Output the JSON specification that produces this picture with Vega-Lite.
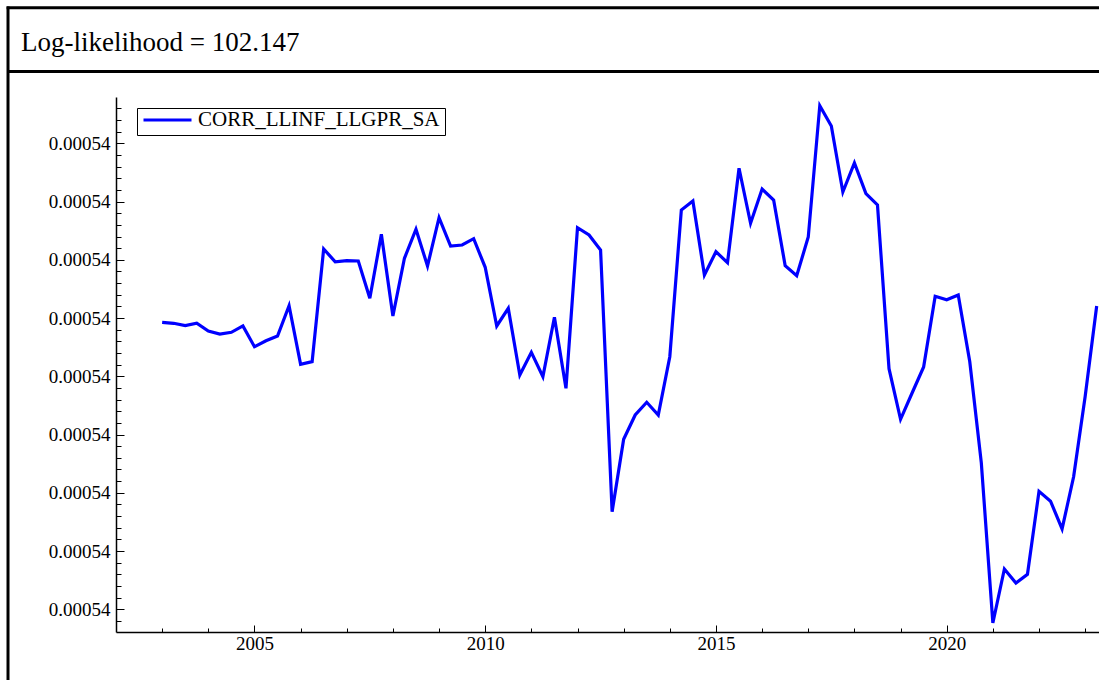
{
  "$schema": "https://vega.github.io/schema/vega-lite/v6.json",
  "width": 983,
  "height": 535,
  "autosize": {"type": "none"},
  "padding": {"left": 116, "top": 97, "right": 0, "bottom": 48},
  "background": "white",
  "title": {
    "text": "Log-likelihood = 102.147",
    "anchor": "start",
    "frame": "bounds",
    "orient": "top",
    "offset": -73,
    "dx": 16,
    "font": "Liberation Serif",
    "fontSize": 27,
    "fontWeight": "normal",
    "color": "black",
    "baseline": "alphabetic"
  },
  "config": {
    "view": {"stroke": null},
    "axis": {"grid": false}
  },
  "resolve": {"axis": {"x": "independent", "y": "independent"}},
  "layer": [
    {
      "data": {
        "values": [
          {"date": 2003.00, "value": 0.00054004927, "series": "CORR_LLINF_LLGPR_SA"},
          {"date": 2003.25, "value": 0.00054004910, "series": "CORR_LLINF_LLGPR_SA"},
          {"date": 2003.50, "value": 0.00054004869, "series": "CORR_LLINF_LLGPR_SA"},
          {"date": 2003.75, "value": 0.00054004910, "series": "CORR_LLINF_LLGPR_SA"},
          {"date": 2004.00, "value": 0.00054004778, "series": "CORR_LLINF_LLGPR_SA"},
          {"date": 2004.25, "value": 0.00054004726, "series": "CORR_LLINF_LLGPR_SA"},
          {"date": 2004.50, "value": 0.00054004755, "series": "CORR_LLINF_LLGPR_SA"},
          {"date": 2004.75, "value": 0.00054004864, "series": "CORR_LLINF_LLGPR_SA"},
          {"date": 2005.00, "value": 0.00054004508, "series": "CORR_LLINF_LLGPR_SA"},
          {"date": 2005.25, "value": 0.00054004611, "series": "CORR_LLINF_LLGPR_SA"},
          {"date": 2005.50, "value": 0.00054004692, "series": "CORR_LLINF_LLGPR_SA"},
          {"date": 2005.75, "value": 0.00054005212, "series": "CORR_LLINF_LLGPR_SA"},
          {"date": 2006.00, "value": 0.00054004206, "series": "CORR_LLINF_LLGPR_SA"},
          {"date": 2006.25, "value": 0.00054004251, "series": "CORR_LLINF_LLGPR_SA"},
          {"date": 2006.50, "value": 0.00054006185, "series": "CORR_LLINF_LLGPR_SA"},
          {"date": 2006.75, "value": 0.00054005967, "series": "CORR_LLINF_LLGPR_SA"},
          {"date": 2007.00, "value": 0.00054005985, "series": "CORR_LLINF_LLGPR_SA"},
          {"date": 2007.25, "value": 0.00054005979, "series": "CORR_LLINF_LLGPR_SA"},
          {"date": 2007.50, "value": 0.00054005339, "series": "CORR_LLINF_LLGPR_SA"},
          {"date": 2007.75, "value": 0.00054006438, "series": "CORR_LLINF_LLGPR_SA"},
          {"date": 2008.00, "value": 0.00054005035, "series": "CORR_LLINF_LLGPR_SA"},
          {"date": 2008.25, "value": 0.00054006026, "series": "CORR_LLINF_LLGPR_SA"},
          {"date": 2008.50, "value": 0.00054006524, "series": "CORR_LLINF_LLGPR_SA"},
          {"date": 2008.75, "value": 0.00054005894, "series": "CORR_LLINF_LLGPR_SA"},
          {"date": 2009.00, "value": 0.00054006723, "series": "CORR_LLINF_LLGPR_SA"},
          {"date": 2009.25, "value": 0.00054006237, "series": "CORR_LLINF_LLGPR_SA"},
          {"date": 2009.50, "value": 0.00054006254, "series": "CORR_LLINF_LLGPR_SA"},
          {"date": 2009.75, "value": 0.00054006362, "series": "CORR_LLINF_LLGPR_SA"},
          {"date": 2010.00, "value": 0.00054005871, "series": "CORR_LLINF_LLGPR_SA"},
          {"date": 2010.25, "value": 0.00054004864, "series": "CORR_LLINF_LLGPR_SA"},
          {"date": 2010.50, "value": 0.00054005167, "series": "CORR_LLINF_LLGPR_SA"},
          {"date": 2010.75, "value": 0.00054004022, "series": "CORR_LLINF_LLGPR_SA"},
          {"date": 2011.00, "value": 0.00054004412, "series": "CORR_LLINF_LLGPR_SA"},
          {"date": 2011.25, "value": 0.00054003993, "series": "CORR_LLINF_LLGPR_SA"},
          {"date": 2011.50, "value": 0.00054005013, "series": "CORR_LLINF_LLGPR_SA"},
          {"date": 2011.75, "value": 0.00054003794, "series": "CORR_LLINF_LLGPR_SA"},
          {"date": 2012.00, "value": 0.00054006551, "series": "CORR_LLINF_LLGPR_SA"},
          {"date": 2012.25, "value": 0.00054006426, "series": "CORR_LLINF_LLGPR_SA"},
          {"date": 2012.50, "value": 0.00054006168, "series": "CORR_LLINF_LLGPR_SA"},
          {"date": 2012.75, "value": 0.00054001676, "series": "CORR_LLINF_LLGPR_SA"},
          {"date": 2013.00, "value": 0.00054002918, "series": "CORR_LLINF_LLGPR_SA"},
          {"date": 2013.25, "value": 0.00054003336, "series": "CORR_LLINF_LLGPR_SA"},
          {"date": 2013.50, "value": 0.00054003554, "series": "CORR_LLINF_LLGPR_SA"},
          {"date": 2013.75, "value": 0.00054003336, "series": "CORR_LLINF_LLGPR_SA"},
          {"date": 2014.00, "value": 0.00054004336, "series": "CORR_LLINF_LLGPR_SA"},
          {"date": 2014.25, "value": 0.00054006855, "series": "CORR_LLINF_LLGPR_SA"},
          {"date": 2014.50, "value": 0.00054007009, "series": "CORR_LLINF_LLGPR_SA"},
          {"date": 2014.75, "value": 0.00054005739, "series": "CORR_LLINF_LLGPR_SA"},
          {"date": 2015.00, "value": 0.00054006139, "series": "CORR_LLINF_LLGPR_SA"},
          {"date": 2015.25, "value": 0.00054005950, "series": "CORR_LLINF_LLGPR_SA"},
          {"date": 2015.50, "value": 0.00054007571, "series": "CORR_LLINF_LLGPR_SA"},
          {"date": 2015.75, "value": 0.00054006627, "series": "CORR_LLINF_LLGPR_SA"},
          {"date": 2016.00, "value": 0.00054007215, "series": "CORR_LLINF_LLGPR_SA"},
          {"date": 2016.25, "value": 0.00054007027, "series": "CORR_LLINF_LLGPR_SA"},
          {"date": 2016.50, "value": 0.00054005899, "series": "CORR_LLINF_LLGPR_SA"},
          {"date": 2016.75, "value": 0.00054005727, "series": "CORR_LLINF_LLGPR_SA"},
          {"date": 2017.00, "value": 0.00054006391, "series": "CORR_LLINF_LLGPR_SA"},
          {"date": 2017.25, "value": 0.00054008646, "series": "CORR_LLINF_LLGPR_SA"},
          {"date": 2017.50, "value": 0.00054008297, "series": "CORR_LLINF_LLGPR_SA"},
          {"date": 2017.75, "value": 0.00054007164, "series": "CORR_LLINF_LLGPR_SA"},
          {"date": 2018.00, "value": 0.00054007662, "series": "CORR_LLINF_LLGPR_SA"},
          {"date": 2018.25, "value": 0.00054007138, "series": "CORR_LLINF_LLGPR_SA"},
          {"date": 2018.50, "value": 0.00054006941, "series": "CORR_LLINF_LLGPR_SA"},
          {"date": 2018.75, "value": 0.00054004130, "series": "CORR_LLINF_LLGPR_SA"},
          {"date": 2019.00, "value": 0.00054003262, "series": "CORR_LLINF_LLGPR_SA"},
          {"date": 2019.25, "value": 0.00054003713, "series": "CORR_LLINF_LLGPR_SA"},
          {"date": 2019.50, "value": 0.00054004160, "series": "CORR_LLINF_LLGPR_SA"},
          {"date": 2019.75, "value": 0.00054005373, "series": "CORR_LLINF_LLGPR_SA"},
          {"date": 2020.00, "value": 0.00054005313, "series": "CORR_LLINF_LLGPR_SA"},
          {"date": 2020.25, "value": 0.00054005397, "series": "CORR_LLINF_LLGPR_SA"},
          {"date": 2020.50, "value": 0.00054004249, "series": "CORR_LLINF_LLGPR_SA"},
          {"date": 2020.75, "value": 0.00054002515, "series": "CORR_LLINF_LLGPR_SA"},
          {"date": 2021.00, "value": 0.00053999765, "series": "CORR_LLINF_LLGPR_SA"},
          {"date": 2021.25, "value": 0.00054000692, "series": "CORR_LLINF_LLGPR_SA"},
          {"date": 2021.50, "value": 0.00054000452, "series": "CORR_LLINF_LLGPR_SA"},
          {"date": 2021.75, "value": 0.00054000601, "series": "CORR_LLINF_LLGPR_SA"},
          {"date": 2022.00, "value": 0.00054002024, "series": "CORR_LLINF_LLGPR_SA"},
          {"date": 2022.25, "value": 0.00054001856, "series": "CORR_LLINF_LLGPR_SA"},
          {"date": 2022.50, "value": 0.00054001379, "series": "CORR_LLINF_LLGPR_SA"},
          {"date": 2022.75, "value": 0.00054002275, "series": "CORR_LLINF_LLGPR_SA"},
          {"date": 2023.00, "value": 0.00054003652, "series": "CORR_LLINF_LLGPR_SA"},
          {"date": 2023.25, "value": 0.00054005207, "series": "CORR_LLINF_LLGPR_SA"}
        ]
      },
      "mark": {"type": "line", "strokeWidth": 3.2},
      "encoding": {
        "x": {
          "field": "date",
          "type": "quantitative",
          "scale": {"domain": [2002, 2023.3], "nice": false, "zero": false},
          "axis": {
            "orient": "bottom",
            "title": null,
            "values": [2003, 2004, 2005, 2006, 2007, 2008, 2009, 2010, 2011, 2012, 2013, 2014, 2015, 2016, 2017, 2018, 2019, 2020, 2021, 2022, 2023],
            "format": "d",
            "labelExpr": "datum.value % 5 === 0 ? datum.label : ''",
            "tickSize": {"condition": {"test": "datum.value % 5 === 0", "value": -7}, "value": -4},
            "tickColor": "black",
            "tickWidth": 1,
            "domainColor": "black",
            "domainWidth": 1.5,
            "labelFont": "Liberation Serif",
            "labelFontSize": 19,
            "labelColor": "black",
            "labelPadding": 9,
            "labelFlush": false,
            "labelOverlap": false
          }
        },
        "y": {
          "field": "value",
          "type": "quantitative",
          "scale": {"domain": [0.0005399961, 0.00054008795], "nice": false, "zero": false},
          "axis": {
            "orient": "left",
            "title": null,
            "values": [0.000539998, 0.00054, 0.000540002, 0.000540004, 0.000540006, 0.000540008, 0.00054001, 0.000540012, 0.000540014, 0.000540016, 0.000540018, 0.00054002, 0.000540022, 0.000540024, 0.000540026, 0.000540028, 0.00054003, 0.000540032, 0.000540034, 0.000540036, 0.000540038, 0.00054004, 0.000540042, 0.000540044, 0.000540046, 0.000540048, 0.00054005, 0.000540052, 0.000540054, 0.000540056, 0.000540058, 0.00054006, 0.000540062, 0.000540064, 0.000540066, 0.000540068, 0.00054007, 0.000540072, 0.000540074, 0.000540076, 0.000540078, 0.00054008, 0.000540082, 0.000540084, 0.000540086],
            "labelExpr": "round((datum.value - 0.00054) * 1e9) % 10 === 0 ? format(datum.value, '.5f') : ''",
            "tickSize": {"condition": {"test": "round((datum.value - 0.00054) * 1e9) % 10 === 0", "value": -8}, "value": -5},
            "tickColor": "black",
            "tickWidth": 1,
            "domainColor": "black",
            "domainWidth": 1.5,
            "labelFont": "Liberation Serif",
            "labelFontSize": 19,
            "labelColor": "black",
            "labelPadding": 14,
            "labelFlush": false,
            "labelOverlap": false
          }
        },
        "color": {
          "field": "series",
          "type": "nominal",
          "scale": {"range": ["#0000ff"]},
          "legend": {
            "title": null,
            "orient": "none",
            "legendX": 21,
            "legendY": 11,
            "symbolType": "stroke",
            "symbolSize": 2304,
            "symbolStrokeWidth": 3,
            "labelFont": "Liberation Serif",
            "labelFontSize": 21,
            "labelColor": "black",
            "labelOffset": 5,
            "labelLimit": 500,
            "padding": 5,
            "clipHeight": 14,
            "strokeColor": "black"
          }
        }
      }
    },
    {
      "data": {"values": [{}]},
      "mark": {"type": "rule", "color": "black", "strokeWidth": 3},
      "encoding": {
        "x": {"datum": 1999.66, "type": "quantitative", "axis": null},
        "y": {"datum": 0.00054010349, "type": "quantitative", "axis": null},
        "y2": {"datum": 0.00053998614}
      }
    },
    {
      "data": {"values": [{}]},
      "mark": {"type": "rule", "color": "black", "strokeWidth": 3},
      "encoding": {
        "x": {"datum": 1999.63, "type": "quantitative", "axis": null},
        "x2": {"datum": 2024},
        "y": {"datum": 0.00054010328, "type": "quantitative", "axis": null}
      }
    },
    {
      "data": {"values": [{}]},
      "mark": {"type": "rule", "color": "black", "strokeWidth": 3},
      "encoding": {
        "x": {"datum": 1999.66, "type": "quantitative", "axis": null},
        "x2": {"datum": 2024},
        "y": {"datum": 0.00054009233, "type": "quantitative", "axis": null}
      }
    }
  ]
}
